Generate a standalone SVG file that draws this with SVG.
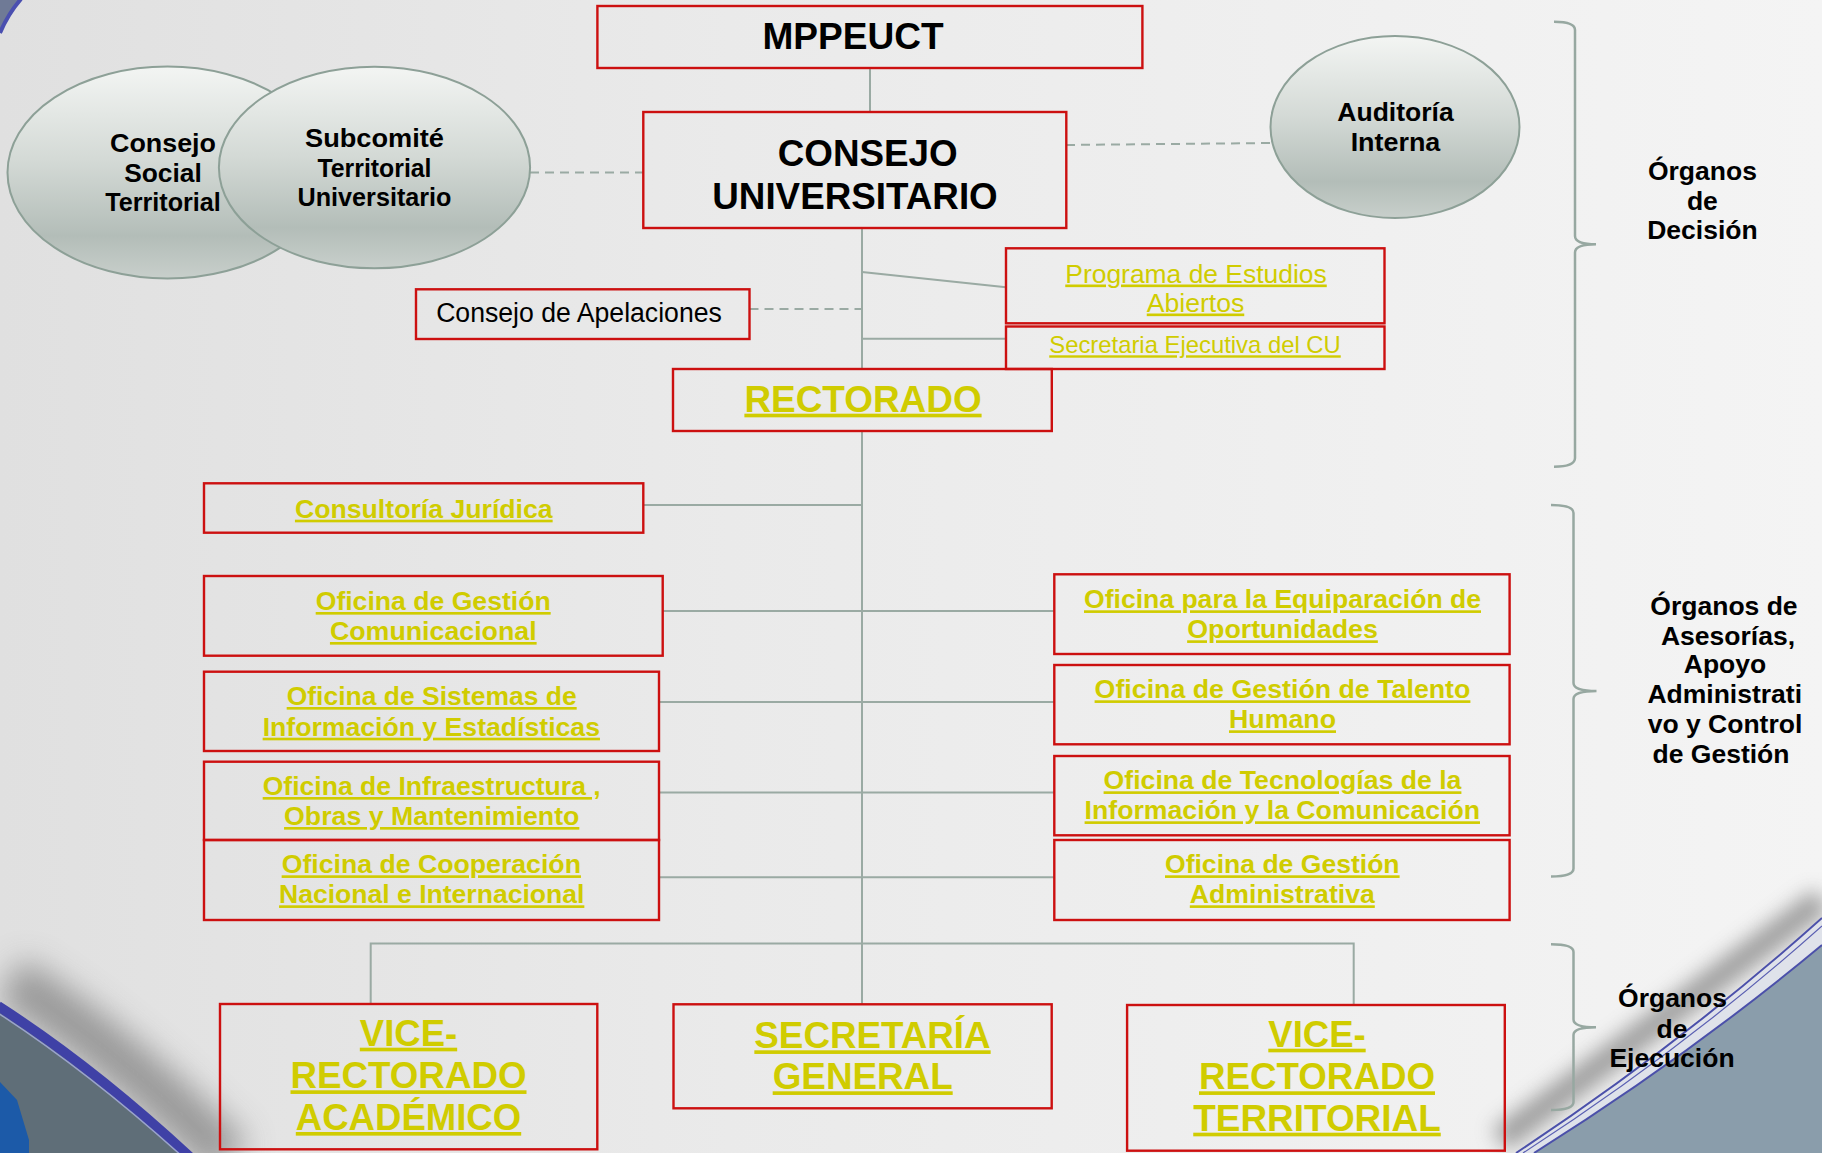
<svg xmlns="http://www.w3.org/2000/svg" width="1822" height="1153" viewBox="0 0 1822 1153">
<defs>
<linearGradient id="bg" x1="0" y1="0" x2="1" y2="0">
<stop offset="0" stop-color="#e0e0e0"/>
<stop offset="0.4" stop-color="#eaeaea"/>
<stop offset="1" stop-color="#f4f4f4"/>
</linearGradient>
<linearGradient id="eg" x1="0" y1="0" x2="0" y2="1">
<stop offset="0" stop-color="#f3f5f3"/>
<stop offset="0.45" stop-color="#d3d9d5"/>
<stop offset="0.8" stop-color="#b3bdb8"/>
<stop offset="1" stop-color="#c8cfcb"/>
</linearGradient>
<filter id="blur" filterUnits="userSpaceOnUse" x="-200" y="700" width="2300" height="700">
<feGaussianBlur stdDeviation="16"/>
</filter>
<filter id="blur2" filterUnits="userSpaceOnUse" x="-200" y="700" width="2300" height="700">
<feGaussianBlur stdDeviation="10"/>
</filter>
</defs>
<style>
.box{fill:none;stroke:#cc1010;stroke-width:2.4}
.ell{fill:url(#eg);stroke:#8da097;stroke-width:2}
.ln{stroke:#9aaaa3;stroke-width:2;fill:none}
.dash{stroke-dasharray:9 6}
.brace{fill:none;stroke:#97a8a1;stroke-width:2.5}
.t{font-family:"Liberation Sans",Arial,sans-serif;text-anchor:middle}
.b{font-weight:bold}
.y{fill:#d0cc00;text-decoration:underline}
.k{fill:#000000}
</style>

<!-- background -->
<rect x="0" y="0" width="1822" height="1153" fill="url(#bg)"/>
<!-- top-left decoration -->
<path d="M0,0 L20,0 Q8,14 0,32 Z" fill="#6f7a96"/>
<path d="M0,33 Q8,14 21,-1" fill="none" stroke="#4a4fb0" stroke-width="4"/>
<!-- bottom-left decoration -->
<path d="M10,980 Q120,1050 230,1160" fill="none" stroke="#808080" stroke-width="50" opacity="0.75" filter="url(#blur)"/>
<path d="M0,1006 Q95,1068 192,1153 L0,1153 Z" fill="#5f6e78"/>
<path d="M-2,1006 Q93,1067 191,1158" fill="none" stroke="#3f41a6" stroke-width="10"/>
<path d="M-2,1013 Q90,1073 184,1158" fill="none" stroke="#9aa3cc" stroke-width="1.5"/>
<path d="M0,1082 L17,1100 L29,1140 L29,1153 L0,1153 Z" fill="#1c5aa8"/>
<!-- bottom-right decoration -->
<path d="M1500,1140 Q1662,1020 1822,900" fill="none" stroke="#7a7a7a" stroke-width="26" opacity="0.7" filter="url(#blur2)"/>
<path d="M1516,1153 Q1680,1045 1822,918 L1822,1153 Z" fill="#dfe2ea"/>
<path d="M1534,1153 Q1690,1055 1822,945 L1822,1153 Z" fill="#8a9dab"/>
<path d="M1516,1153 Q1680,1045 1822,918" fill="none" stroke="#4b50aa" stroke-width="2"/>
<path d="M1523,1153 Q1684,1049 1822,926" fill="none" stroke="#5a5fb2" stroke-width="1.2"/>
<path d="M1534,1153 Q1690,1055 1822,945" fill="none" stroke="#4b50aa" stroke-width="2"/>

<!-- connectors -->
<g id="connectors">
<line class="ln" x1="870" y1="68" x2="870" y2="112"/>
<line class="ln dash" x1="530" y1="172.5" x2="643" y2="172.5"/>
<line class="ln dash" x1="1066" y1="145" x2="1271" y2="143"/>
<line class="ln" x1="862" y1="228" x2="862" y2="369"/>
<line class="ln" x1="862" y1="272" x2="1006" y2="287.3"/>
<line class="ln dash" x1="749.5" y1="309" x2="862" y2="309"/>
<line class="ln" x1="862" y1="338.7" x2="1006" y2="338.7"/>
<line class="ln" x1="862" y1="431" x2="862" y2="1004"/>
<line class="ln" x1="643" y1="505" x2="862" y2="505"/>
<line class="ln" x1="663" y1="611" x2="1054" y2="611"/>
<line class="ln" x1="659" y1="702" x2="1054" y2="702"/>
<line class="ln" x1="659" y1="792.5" x2="1054" y2="792.5"/>
<line class="ln" x1="659" y1="877.3" x2="1054" y2="877.3"/>
<path class="ln" d="M370.7,1004 L370.7,943.5 L1353.7,943.5 L1353.7,1005"/>
</g>

<!-- ellipses -->
<g id="consejo-social">
<ellipse class="ell" cx="167.5" cy="172.5" rx="160" ry="106"/>
<text class="t b k" font-size="26" x="163" y="152.3" textLength="106" lengthAdjust="spacingAndGlyphs">Consejo</text>
<text class="t b k" font-size="26" x="163" y="181.7" textLength="77.7" lengthAdjust="spacingAndGlyphs">Social</text>
<text class="t b k" font-size="26" x="163" y="210.7" textLength="115.6" lengthAdjust="spacingAndGlyphs">Territorial</text>
</g>
<g id="subcomite">
<ellipse class="ell" cx="374.5" cy="167.5" rx="155.6" ry="100.8"/>
<text class="t b k" font-size="26" x="374.5" y="146.7" textLength="139" lengthAdjust="spacingAndGlyphs">Subcomité</text>
<text class="t b k" font-size="26" x="374.5" y="176.7" textLength="114" lengthAdjust="spacingAndGlyphs">Territorial</text>
<text class="t b k" font-size="26" x="374.5" y="205.7" textLength="154" lengthAdjust="spacingAndGlyphs">Universitario</text>
</g>
<g id="auditoria">
<ellipse class="ell" cx="1395" cy="127" rx="124.5" ry="91"/>
<text class="t b k" font-size="26" x="1395.5" y="120.7" textLength="116.3" lengthAdjust="spacingAndGlyphs">Auditoría</text>
<text class="t b k" font-size="26" x="1395.5" y="150.7" textLength="89.7" lengthAdjust="spacingAndGlyphs">Interna</text>
</g>

<!-- boxes -->
<g id="mppeuct">
<rect class="box" x="597.4" y="6" width="545" height="62"/>
<text class="t b k" font-size="37" x="853" y="49.3" textLength="181" lengthAdjust="spacingAndGlyphs">MPPEUCT</text>
</g>
<g id="consejo-universitario">
<rect class="box" x="643.3" y="112" width="423" height="116"/>
<text class="t b k" font-size="37" x="867.7" y="165.7" textLength="180" lengthAdjust="spacingAndGlyphs">CONSEJO</text>
<text class="t b k" font-size="37" x="855" y="209" textLength="285.5" lengthAdjust="spacingAndGlyphs">UNIVERSITARIO</text>
</g>
<g id="consejo-apelaciones">
<rect class="box" x="416" y="289.3" width="333.5" height="49.7"/>
<text class="t k" font-size="27" x="579" y="321.7" textLength="285.7" lengthAdjust="spacingAndGlyphs">Consejo de Apelaciones</text>
</g>
<g id="programa-estudios">
<rect class="box" x="1006" y="248.3" width="378.5" height="75"/>
<text class="t y" font-size="26.5" x="1196" y="282.5" textLength="261.5" lengthAdjust="spacingAndGlyphs">Programa de Estudios</text>
<text class="t y" font-size="26.5" x="1195.5" y="311.5" textLength="97.5" lengthAdjust="spacingAndGlyphs">Abiertos</text>
</g>
<g id="secretaria-ejecutiva">
<rect class="box" x="1006" y="326.5" width="378.5" height="42.5"/>
<text class="t y" font-size="24" x="1195" y="353.3" textLength="291.5" lengthAdjust="spacingAndGlyphs">Secretaria Ejecutiva del CU</text>
</g>
<g id="rectorado">
<rect class="box" x="673" y="369" width="378.8" height="62"/>
<text class="t b y" font-size="36.5" x="863" y="411.7" textLength="237.2" lengthAdjust="spacingAndGlyphs">RECTORADO</text>
</g>
<g id="consultoria">
<rect class="box" x="204" y="483.3" width="439.3" height="49.4"/>
<text class="t b y" font-size="26.5" x="423.8" y="517.7" textLength="257.7" lengthAdjust="spacingAndGlyphs">Consultoría Jurídica</text>
</g>
<g id="gestion-comunicacional">
<rect class="box" x="204" y="576" width="458.7" height="79.7"/>
<text class="t b y" font-size="26.5" x="433.2" y="610" textLength="235" lengthAdjust="spacingAndGlyphs">Oficina de Gestión</text>
<text class="t b y" font-size="26.5" x="433.3" y="640" textLength="206.7" lengthAdjust="spacingAndGlyphs">Comunicacional</text>
</g>
<g id="sistemas-informacion">
<rect class="box" x="204" y="671.7" width="455" height="79.3"/>
<text class="t b y" font-size="26.5" x="431.7" y="705" textLength="290" lengthAdjust="spacingAndGlyphs">Oficina de Sistemas de</text>
<text class="t b y" font-size="26.5" x="431.3" y="735.7" textLength="337.3" lengthAdjust="spacingAndGlyphs">Información y Estadísticas</text>
</g>
<g id="infraestructura">
<rect class="box" x="204" y="761.7" width="455" height="78.3"/>
<text class="t b y" font-size="26.5" x="431.7" y="795" textLength="338" lengthAdjust="spacingAndGlyphs">Oficina de Infraestructura ,</text>
<text class="t b y" font-size="26.5" x="431.7" y="825" textLength="295.3" lengthAdjust="spacingAndGlyphs">Obras y Mantenimiento</text>
</g>
<g id="cooperacion">
<rect class="box" x="204" y="840" width="455" height="80"/>
<text class="t b y" font-size="26.5" x="431.3" y="873.3" textLength="299.3" lengthAdjust="spacingAndGlyphs">Oficina de Cooperación</text>
<text class="t b y" font-size="26.5" x="431.7" y="903.3" textLength="305.3" lengthAdjust="spacingAndGlyphs">Nacional e Internacional</text>
</g>
<g id="equiparacion">
<rect class="box" x="1054.3" y="574.3" width="455.3" height="79.7"/>
<text class="t b y" font-size="26.5" x="1282.5" y="608.3" textLength="397" lengthAdjust="spacingAndGlyphs">Oficina para la Equiparación de</text>
<text class="t b y" font-size="26.5" x="1282.5" y="638.3" textLength="190.7" lengthAdjust="spacingAndGlyphs">Oportunidades</text>
</g>
<g id="talento-humano">
<rect class="box" x="1054.3" y="665" width="455.3" height="79.3"/>
<text class="t b y" font-size="26.5" x="1282.5" y="698.3" textLength="375.8" lengthAdjust="spacingAndGlyphs">Oficina de Gestión de Talento</text>
<text class="t b y" font-size="26.5" x="1282.5" y="728.3" textLength="107" lengthAdjust="spacingAndGlyphs">Humano</text>
</g>
<g id="tecnologias">
<rect class="box" x="1054.3" y="756" width="455.3" height="79.3"/>
<text class="t b y" font-size="26.5" x="1282.5" y="789.3" textLength="357.8" lengthAdjust="spacingAndGlyphs">Oficina de Tecnologías de la</text>
<text class="t b y" font-size="26.5" x="1282.3" y="819.3" textLength="395.4" lengthAdjust="spacingAndGlyphs">Información y la Comunicación</text>
</g>
<g id="gestion-administrativa">
<rect class="box" x="1054.3" y="840" width="455.3" height="80"/>
<text class="t b y" font-size="26.5" x="1282.3" y="873.3" textLength="234.6" lengthAdjust="spacingAndGlyphs">Oficina de Gestión</text>
<text class="t b y" font-size="26.5" x="1282.3" y="903.3" textLength="185" lengthAdjust="spacingAndGlyphs">Administrativa</text>
</g>
<g id="vr-academico">
<rect class="box" x="220" y="1004" width="377.3" height="145.3"/>
<text class="t b y" font-size="36.5" x="408.5" y="1045.7">VICE-</text>
<text class="t b y" font-size="36.5" x="408.5" y="1088.3" textLength="236" lengthAdjust="spacingAndGlyphs">RECTORADO</text>
<text class="t b y" font-size="36.5" x="408.5" y="1130" textLength="225.4" lengthAdjust="spacingAndGlyphs">ACADÉMICO</text>
</g>
<g id="secretaria-general">
<rect class="box" x="673.5" y="1004.3" width="378.2" height="104"/>
<text class="t b y" font-size="36.5" x="872.5" y="1048.3" textLength="236.3" lengthAdjust="spacingAndGlyphs">SECRETARÍA</text>
<text class="t b y" font-size="36.5" x="862.7" y="1089.3" textLength="180" lengthAdjust="spacingAndGlyphs">GENERAL</text>
</g>
<g id="vr-territorial">
<rect class="box" x="1127.1" y="1005" width="377.7" height="145.7"/>
<text class="t b y" font-size="36.5" x="1317" y="1046.7">VICE-</text>
<text class="t b y" font-size="36.5" x="1317" y="1089.3" textLength="236" lengthAdjust="spacingAndGlyphs">RECTORADO</text>
<text class="t b y" font-size="36.5" x="1317" y="1130.7" textLength="247.5" lengthAdjust="spacingAndGlyphs">TERRITORIAL</text>
</g>

<!-- braces and group labels -->
<g id="organos-decision">
<path class="brace" d="M1554,21.7 Q1575,21.7 1575,30 L1575,236 Q1575,244.3 1596,244.3 Q1575,244.3 1575,252.6 L1575,458 Q1575,466.7 1554,466.7"/>
<text class="t b k" font-size="26.5" x="1702.4" y="180">Órganos</text>
<text class="t b k" font-size="26.5" x="1702.4" y="210">de</text>
<text class="t b k" font-size="26.5" x="1702.4" y="239.3">Decisión</text>
</g>
<g id="organos-asesoria">
<path class="brace" d="M1551,505 Q1573.5,505 1573.5,513 L1573.5,683 Q1573.5,691 1596.5,691 Q1573.5,691 1573.5,699 L1573.5,868.5 Q1573.5,876.5 1551,876.5"/>
<text class="t b k" font-size="26.5" x="1724" y="615">Órganos de</text>
<text class="t b k" font-size="26.5" x="1728" y="645">Asesorías,</text>
<text class="t b k" font-size="26.5" x="1725" y="673">Apoyo</text>
<text class="t b k" font-size="26.5" x="1724.7" y="703.3">Administrati</text>
<text class="t b k" font-size="26.5" x="1725" y="733.3">vo y Control</text>
<text class="t b k" font-size="26.5" x="1721" y="763.3">de Gestión</text>
</g>
<g id="organos-ejecucion">
<path class="brace" d="M1551,944.3 Q1573.5,944.3 1573.5,952 L1573.5,1019.5 Q1573.5,1027.3 1596,1027.3 Q1573.5,1027.3 1573.5,1035 L1573.5,1102 Q1573.5,1110 1551,1110"/>
<text class="t b k" font-size="26.5" x="1672.5" y="1006.7">Órganos</text>
<text class="t b k" font-size="26.5" x="1672" y="1037.7">de</text>
<text class="t b k" font-size="26.5" x="1672" y="1066.7">Ejecución</text>
</g>
</svg>
